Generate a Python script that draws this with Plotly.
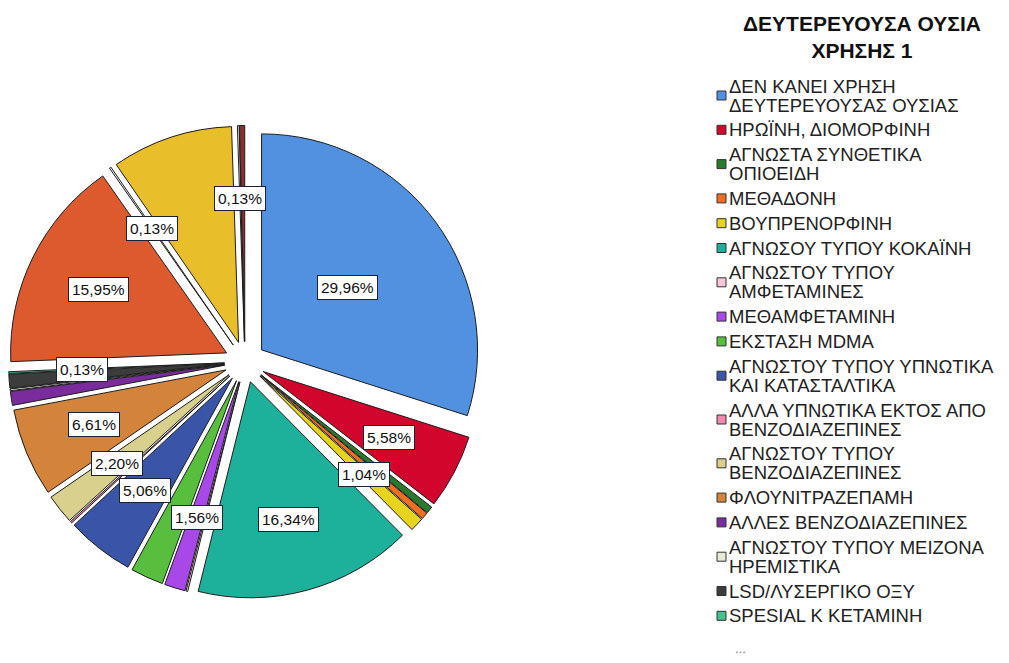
import math
import plotly.graph_objects as go

# ---------------- data ----------------
categories = [
    "ΔΕΝ ΚΑΝΕΙ ΧΡΗΣΗ\nΔΕΥΤΕΡΕΥΟΥΣΑΣ ΟΥΣΙΑΣ",
    "ΗΡΩΪΝΗ, ΔΙΟΜΟΡΦΙΝΗ",
    "ΑΓΝΩΣΤΑ ΣΥΝΘΕΤΙΚΑ\nΟΠΙΟΕΙΔΗ",
    "ΜΕΘΑΔΟΝΗ",
    "ΒΟΥΠΡΕΝΟΡΦΙΝΗ",
    "ΑΓΝΩΣΟΥ ΤΥΠΟΥ ΚΟΚΑΪΝΗ",
    "ΑΓΝΩΣΤΟΥ ΤΥΠΟΥ\nΑΜΦΕΤΑΜΙΝΕΣ",
    "ΜΕΘΑΜΦΕΤΑΜΙΝΗ",
    "ΕΚΣΤΑΣΗ MDMA",
    "ΑΓΝΩΣΤΟΥ ΤΥΠΟΥ ΥΠΝΩΤΙΚΑ\nΚΑΙ ΚΑΤΑΣΤΑΛΤΙΚΑ",
    "ΑΛΛΑ ΥΠΝΩΤΙΚΑ ΕΚΤΟΣ ΑΠΟ\nΒΕΝΖΟΔΙΑΖΕΠΙΝΕΣ",
    "ΑΓΝΩΣΤΟΥ ΤΥΠΟΥ\nΒΕΝΖΟΔΙΑΖΕΠΙΝΕΣ",
    "ΦΛΟΥΝΙΤΡΑΖΕΠΑΜΗ",
    "ΑΛΛΕΣ ΒΕΝΖΟΔΙΑΖΕΠΙΝΕΣ",
    "ΑΓΝΩΣΤΟΥ ΤΥΠΟΥ ΜΕΙΖΟΝΑ\nΗΡΕΜΙΣΤΙΚΑ",
    "LSD/ΛΥΣΕΡΓΙΚΟ ΟΞΥ",
    "SPESIAL K ΚΕΤΑΜΙΝΗ",
    "(κατηγορία 18)",
    "(κατηγορία 19)",
    "(κατηγορία 20)",
    "(κατηγορία 21)",
    "(κατηγορία 22)",
]
percent_values = [29.96, 5.58, 0.52, 0.52, 1.04, 16.34, 0.13, 1.56, 2.46, 5.06,
                  0.13, 2.20, 6.61, 1.04, 0.13, 1.04, 0.13, 15.95, 0.13, 9.08,
                  0.13, 0.39]
slice_colors = ["#5290E0", "#D2062C", "#2A7A2E", "#EE6E22", "#E6D41E", "#1DB09A",
                "#F4C8D4", "#A848E8", "#58BE3E", "#3A55A8", "#F08AB0", "#D8D08C",
                "#D4843A", "#7A2C9C", "#E8EAD8", "#3C3C3C", "#48C08C", "#DD5A2E",
                "#F2F2F2", "#E8BE2A", "#F2F2F2", "#8B2E2E"]
label_shown = [True, True, False, False, True, True, False, True, False, True,
               False, True, True, False, False, False, True, True, True, False,
               True, False]
legend_count = 17
legend_title = ["ΔΕΥΤΕΡΕΥΟΥΣΑ ΟΥΣΙΑ", "ΧΡΗΣΗΣ 1"]

# ---------------- geometry ----------------
OFF = 8                      # page body margin
W, H = 1009 - 2 * OFF, 663 - 2 * OFF
cx, cy = 245, 362            # pie centre in window pixels
R = 216
pull = 0.095
half = R * (1 + pull)
FONT = "Liberation Sans, Arial, sans-serif"


def px(x):
    return (x - OFF) / W


def py(y):
    return 1 - (y - OFF) / H


def clamp(v):
    return min(1.0, max(0.0, v))


fig = go.Figure()
fig.add_trace(go.Pie(
    labels=[c.replace("\n", " ") for c in categories],
    values=percent_values,
    sort=False,
    direction="clockwise",
    rotation=0,
    pull=[pull] * len(percent_values),
    marker=dict(colors=slice_colors, line=dict(color="#1E1E1E", width=1)),
    textinfo="none",
    hoverinfo="label+percent",
    showlegend=False,
    domain=dict(x=[clamp(px(cx - half)), clamp(px(cx + half))],
                y=[clamp(py(cy + half)), clamp(py(cy - half))]),
))

annotations = []
shapes = []

# percentage labels in boxes, placed along each slice's mid-angle
total = sum(percent_values)
cum = 0.0
largest = max(percent_values)
for v, show in zip(percent_values, label_shown):
    mid = (cum + v / 2) / total * 2 * math.pi
    cum += v
    if not show:
        continue
    frac = 0.49 if v == largest else 0.66
    vx = cx + pull * R * math.sin(mid)
    vy = cy - pull * R * math.cos(mid)
    lx = vx + frac * R * math.sin(mid)
    ly = vy - frac * R * math.cos(mid)
    txt = f"{v:.2f}".replace(".", ",") + "%"
    annotations.append(dict(
        x=px(lx), y=py(ly), xref="paper", yref="paper", text=txt,
        showarrow=False, font=dict(family=FONT, size=15.5, color="#111"),
        bgcolor="white", bordercolor="#1C2233", borderwidth=1, borderpad=3,
        xanchor="center", yanchor="middle"))

# legend title (single annotation, two lines)
annotations.append(dict(
    x=px(862), y=py(37), xref="paper", yref="paper",
    text="<br>".join(f"<b>{line}</b>" for line in legend_title),
    showarrow=False, align="center",
    font=dict(family=FONT, size=21, color="#111"),
    xanchor="center", yanchor="middle"))

# legend entries
step, extra = 24.8, 19.0
y = 86.0
for name, col in zip(categories[:legend_count], slice_colors[:legend_count]):
    lines = name.split("\n")
    for j, ln in enumerate(lines):
        annotations.append(dict(
            x=px(727), y=py(y + j * extra), xref="paper", yref="paper",
            text=ln, showarrow=False,
            font=dict(family=FONT, size=18.5, color="#222"),
            xanchor="left", yanchor="middle"))
    my = y + (len(lines) - 1) * extra / 2
    shapes.append(dict(type="rect", xref="paper", yref="paper",
                       x0=px(717), x1=px(726), y0=py(my + 4.5), y1=py(my - 4.5),
                       fillcolor=col, line=dict(color="#333", width=1)))
    y += step + (len(lines) - 1) * extra

annotations.append(dict(
    x=px(740), y=py(648), xref="paper", yref="paper", text="...",
    showarrow=False, font=dict(family=FONT, size=13, color="#777"),
    xanchor="center", yanchor="middle"))

fig.update_layout(
    width=W, height=H,
    margin=dict(l=0, r=0, t=0, b=0),
    paper_bgcolor="white", plot_bgcolor="white",
    showlegend=False,
    annotations=annotations,
    shapes=shapes,
)

fig.write_html("out.html")
